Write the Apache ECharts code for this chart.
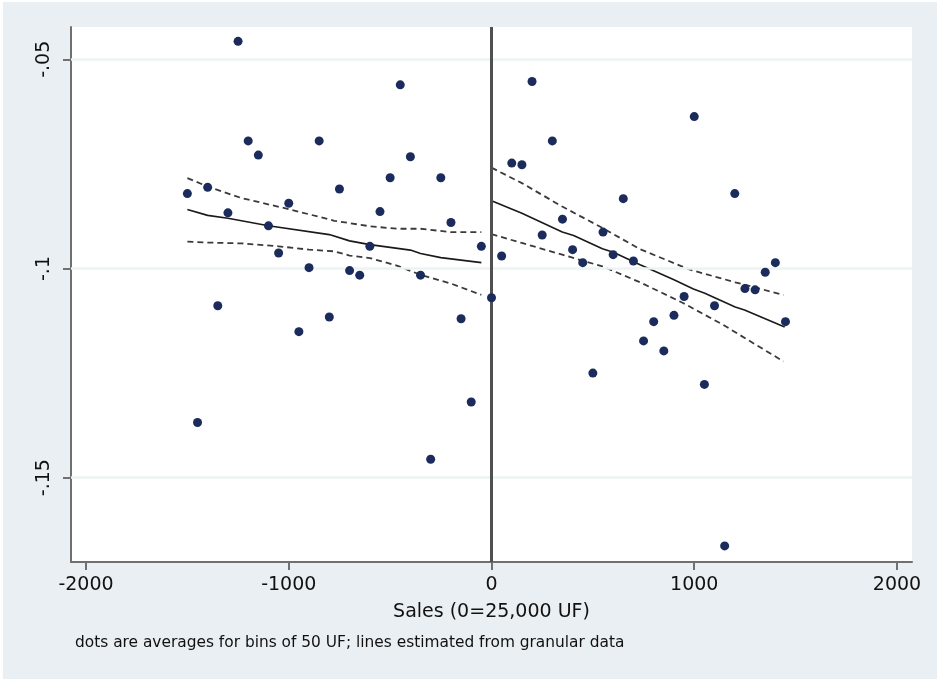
<!DOCTYPE html>
<html>
<head>
<meta charset="utf-8">
<script src="https://cdn.jsdelivr.net/npm/echarts@6/dist/echarts.min.js"></script>
<style>
html,body{margin:0;padding:0;background:#ffffff;}
#chart{width:937px;height:679px;}
</style>
</head>
<body>
<div id="chart"></div>
<script>
// ---- data ----
const dotX = [-1500,-1450,-1400,-1350,-1300,-1250,-1200,-1150,-1100,-1050,-1000,-950,-900,-850,-800,-750,-700,-650,-600,-550,-500,-450,-400,-350,-300,-250,-200,-150,-100,-50,0,
  50,100,150,200,250,300,350,400,450,500,550,600,650,700,750,800,850,900,950,1000,1050,1100,1150,1200,1250,1300,1350,1400,1450];
const dotY = [-0.0821,-0.1368,-0.0806,-0.1089,-0.0867,-0.0457,-0.0695,-0.0729,-0.0898,-0.0963,-0.0844,-0.1151,-0.0998,-0.0695,-0.1116,-0.0810,-0.1005,-0.1016,-0.0947,-0.0864,-0.0783,-0.0561,-0.0733,-0.1016,-0.1456,-0.0783,-0.0890,-0.1120,-0.1319,-0.0947,-0.1070,
  -0.0970,-0.0748,-0.0752,-0.0553,-0.0920,-0.0695,-0.0882,-0.0955,-0.0986,-0.1250,-0.0913,-0.0967,-0.0833,-0.0982,-0.1173,-0.1127,-0.1197,-0.1112,-0.1067,-0.0637,-0.1277,-0.1089,-0.1663,-0.0821,-0.1048,-0.1051,-0.1009,-0.0986,-0.1127];

const fitLeftX = [-1500,-1400,-1300,-1100,-800,-700,-600,-400,-350,-250,-50];
const fitLeftY = [-0.0859,-0.0873,-0.0880,-0.0898,-0.0919,-0.0934,-0.0943,-0.0956,-0.0964,-0.0974,-0.0986];
const ciLeftUpX = [-1500,-1400,-1231,-1000,-775,-600,-467,-350,-200,-50];
const ciLeftUpY = [-0.0784,-0.0804,-0.0832,-0.0858,-0.0886,-0.0899,-0.0905,-0.0905,-0.0913,-0.0913];
const ciLeftLoX = [-1500,-1400,-1231,-1050,-900,-775,-700,-600,-467,-350,-200,-50];
const ciLeftLoY = [-0.0936,-0.0938,-0.0940,-0.0947,-0.0955,-0.0959,-0.0969,-0.0975,-0.0993,-0.1015,-0.1036,-0.1063];

const fitRightX = [0,150,349,405,547,601,733,900,996,1052,1202,1248,1446];
const fitRightY = [-0.0838,-0.0868,-0.0913,-0.0921,-0.0953,-0.0961,-0.0991,-0.1027,-0.1049,-0.1059,-0.1092,-0.1099,-0.1140];
const ciRightUpX = [0,150,349,547,733,980,1202,1440];
const ciRightUpY = [-0.0759,-0.0796,-0.0852,-0.0903,-0.0954,-0.1003,-0.1033,-0.1063];
const ciRightLoX = [0,150,349,547,733,947,1144,1276,1440];
const ciRightLoY = [-0.0918,-0.0939,-0.0967,-0.0995,-0.1033,-0.1083,-0.1135,-0.1174,-0.1222];

const xTickValues = [-2000,-1000,0,1000,2000];
const xTickLabels = ['-2000','-1000','0','1000','2000'];
const yTickValues = [-0.15,-0.1,-0.05];
const yTickLabels = ['-.15','-.1','-.05'];

const xTitle = 'Sales (0=25,000 UF)';
const note = 'dots are averages for bins of 50 UF; lines estimated from granular data';

// ---- build ----
const zip = (a,b) => a.map((v,i)=>[v,b[i]]);
const lookup = (vals, labs) => v => { let bi=0, bd=Infinity; vals.forEach((t,i)=>{const d=Math.abs(t-v); if(d<bd){bd=d;bi=i;}}); return labs[bi]; };

const FONT = 'DejaVu Sans';
const axisCol = '#707070';
const txtCol = '#111111';

const solid = {color:'#1a1a1a', width:1.6, type:'solid'};
const dashed = {color:'#3a3a3a', width:1.8, type:[6,4]};

function lineSeries(x,y,style){
  return {type:'line', data:zip(x,y), showSymbol:false, symbol:'none', lineStyle:style, z:4, silent:true, animation:false};
}

const chart = echarts.init(document.getElementById('chart'), null, {renderer:'canvas'});
chart.setOption({
  animation:false,
  backgroundColor:'#e9eff2',
  textStyle:{fontFamily:FONT},
  graphic:[
    {type:'rect', shape:{x:0,y:0,width:937,height:2}, style:{fill:'#ffffff'}, silent:true},
    {type:'rect', shape:{x:0,y:0,width:3,height:679}, style:{fill:'#ffffff'}, silent:true},
    {type:'text', left:75, top:635, style:{text:note, font:'15.4px "DejaVu Sans"', fill:txtCol}, silent:true}
  ],
  grid:{left:71, right:25, top:27, bottom:117, show:true, backgroundColor:'#ffffff', borderWidth:0, containLabel:false},
  xAxis:{
    type:'value', min:-2074, max:2074,
    name:xTitle, nameLocation:'middle', nameGap:41,
    nameTextStyle:{fontFamily:FONT, fontSize:19, color:txtCol},
    axisLine:{show:true, onZero:false, lineStyle:{color:axisCol, width:2}},
    axisTick:{show:true, length:8, lineStyle:{color:axisCol, width:2}, customValues:xTickValues},
    axisLabel:{show:true, customValues:xTickValues, formatter:lookup(xTickValues,xTickLabels), fontFamily:FONT, fontSize:19, color:txtCol, margin:14},
    splitLine:{show:false}
  },
  yAxis:{
    type:'value', min:-0.17015, max:-0.04228,
    axisLine:{show:true, onZero:false, lineStyle:{color:axisCol, width:2}},
    axisTick:{show:true, length:8, lineStyle:{color:axisCol, width:2}, customValues:yTickValues},
    axisLabel:{show:true, customValues:yTickValues, formatter:lookup(yTickValues,yTickLabels), fontFamily:FONT, fontSize:19, color:txtCol, rotate:90, margin:17},
    splitLine:{show:false}
  },
  series:[
    {type:'scatter', data:[], silent:true, z:1,
     markLine:{silent:true, symbol:'none', label:{show:false}, animation:false,
       data: yTickValues.map(v=>({yAxis:v, lineStyle:{color:'#edf3f4', width:2.5, type:'solid'}}))
         .concat([{xAxis:0, lineStyle:{color:'#505050', width:3, type:'solid'}}])
     }},
    lineSeries(ciLeftUpX, ciLeftUpY, dashed),
    lineSeries(ciLeftLoX, ciLeftLoY, dashed),
    lineSeries(ciRightUpX, ciRightUpY, dashed),
    lineSeries(ciRightLoX, ciRightLoY, dashed),
    lineSeries(fitLeftX, fitLeftY, solid),
    lineSeries(fitRightX, fitRightY, solid),
    {type:'scatter', data:zip(dotX,dotY), symbol:'circle', symbolSize:9,
     itemStyle:{color:'#1b2b5b', opacity:1}, z:6, silent:true, animation:false}
  ]
});
</script>
</body>
</html>
